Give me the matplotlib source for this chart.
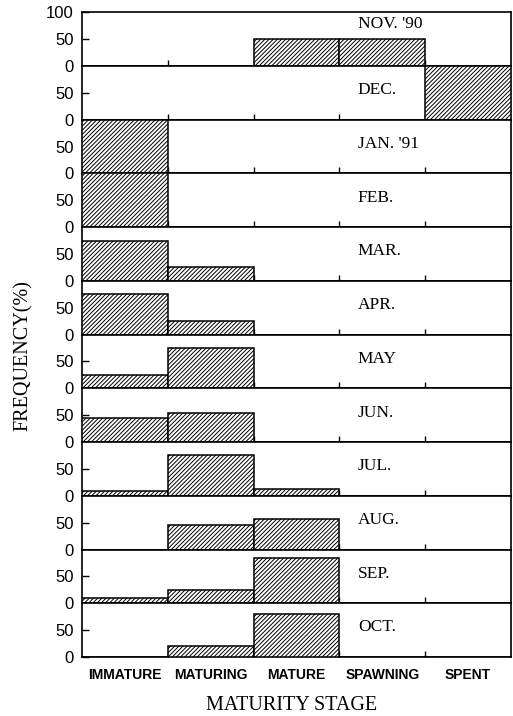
import matplotlib
matplotlib.use("Agg")
import matplotlib.pyplot as plt
import numpy as np

plt.rcParams['hatch.linewidth'] = 0.7

stages = ["IMMATURE", "MATURING", "MATURE", "SPAWNING", "SPENT"]
months = ["NOV. '90", "DEC.", "JAN. '91", "FEB.", "MAR.", "APR.",
          "MAY", "JUN.", "JUL.", "AUG.", "SEP.", "OCT."]

nov = [0, 0, 50, 50, 0]
dec = [0, 0, 0, 0, 100]
jan = [100, 0, 0, 0, 0]
feb = [100, 0, 0, 0, 0]
mar = [75, 25, 0, 0, 0]
apr = [75, 25, 0, 0, 0]
may = [25, 75, 0, 0, 0]
jun = [45, 55, 0, 0, 0]
jul = [9, 76, 13, 0, 0]
aug = [0, 46, 56, 0, 0]
sep = [9, 25, 85, 0, 0]
oct_ = [0, 20, 80, 0, 0]
series = [nov, dec, jan, feb, mar, apr, may, jun, jul, aug, sep, oct_]

fig = plt.figure(figsize=(5.13, 7.16), dpi=100)
fig.subplots_adjust(left=0.160, right=0.996, top=0.983, bottom=0.0824, hspace=0)
axes = fig.subplots(len(months), 1, sharex=True)

x = np.arange(len(stages))
for i, (ax, vals, m) in enumerate(zip(axes, series, months)):
    ax.bar(x, vals, width=1.0, color='white', edgecolor='black',
           hatch='////////', linewidth=1.1, zorder=3)
    ax.set_xlim(-0.5, 4.5)
    ax.set_ylim(0, 100)
    ax.set_yticks([0, 50, 100] if i == 0 else [0, 50])
    ax.tick_params(axis='y', direction='in', length=5, width=1,
                   labelsize=12, pad=6)
    for lab in ax.get_yticklabels():
        lab.set_fontfamily('Liberation Sans')
    ax.set_xticks(x)
    ax.set_xticks(x[:-1] + 0.5, minor=True)
    ax.tick_params(axis='x', which='major', length=0)
    ax.tick_params(axis='x', which='minor', direction='in', length=4, width=1)
    for s in ax.spines.values():
        s.set_linewidth(1.2)
    ypos = 0.78 if i == 0 else 0.55
    ax.text(0.643, ypos, m, transform=ax.transAxes, ha='left', va='center',
            fontsize=12.5, family='Liberation Serif')

axes[-1].set_xticklabels(stages, fontsize=10, family='Liberation Sans',
                         fontweight='bold')
axes[-1].tick_params(axis='x', which='major', pad=8)

fig.text(0.569, 0.015, "MATURITY STAGE", ha='center', va='center',
         fontsize=14.5, family='Liberation Serif')
fig.text(0.045, 0.504, "FREQUENCY(%)", ha='center', va='center', rotation=90,
         fontsize=14.5, family='Liberation Serif')

fig.savefig("out.png", dpi=100)
